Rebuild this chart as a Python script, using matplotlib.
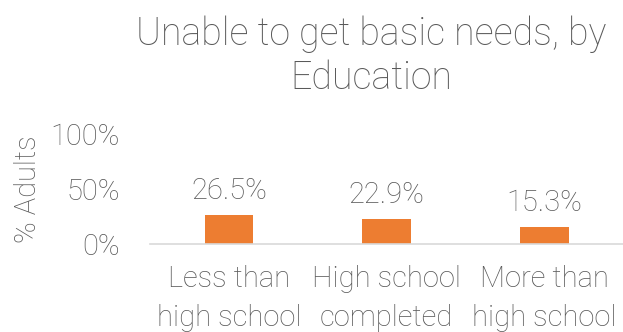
import numpy             as np
import matplotlib.pyplot as plt

categories = ['Less than\nhigh school', 'High school\ncompleted', 'More than\nhigh school']
values     = [26.5, 22.9, 15.3]
yticks     = [0, 50, 100]

text_color = '#595959'
bar_color  = '#ED7D31'
fontsize   = 21

plt.rcParams['font.family'] = ['Roboto', 'DejaVu Sans']
plt.rcParams['font.weight'] = 'light'
plt.rcParams['axes.labelweight'] = 'light'

fig = plt.figure(figsize=(6.23, 3.32), dpi=100)
ax  = fig.add_axes([0.241, 0.265, 0.759, 0.3315])

x = np.arange(len(categories))
bars = ax.bar(x, values, width=0.31, color=bar_color)
for xi, v in zip(x, values):
    ax.annotate(f'{v:.1f}%', (xi, v), xytext=(0, 7), textcoords='offset points',
                ha='center', va='bottom', fontsize=fontsize, color=text_color)

ax.set_xlim(-0.5, len(categories) - 0.5)
ax.set_ylim(0, 100)
ax.set_yticks(yticks)
ax.set_yticklabels([f'{t}%' for t in yticks])
ax.set_xticks(x)
ax.set_xticklabels(categories, linespacing=1.5)
ax.tick_params(axis='both', length=0, labelsize=fontsize, labelcolor=text_color)
ax.tick_params(axis='x', pad=15)
ax.tick_params(axis='y', pad=22)

for side in ['top', 'right', 'left']:
    ax.spines[side].set_visible(False)
ax.spines['bottom'].set_color('#d9d9d9')
ax.spines['bottom'].set_linewidth(1.2)

ax.set_ylabel('% Adults', fontsize=fontsize, color=text_color, labelpad=6,
              fontweight='light')

fig.text(0.596, 0.83, 'Unable to get basic needs, by\nEducation', ha='center', va='center',
         fontsize=27, color=text_color, linespacing=1.2, fontweight='light')

fig.savefig('out.png', dpi=100)
